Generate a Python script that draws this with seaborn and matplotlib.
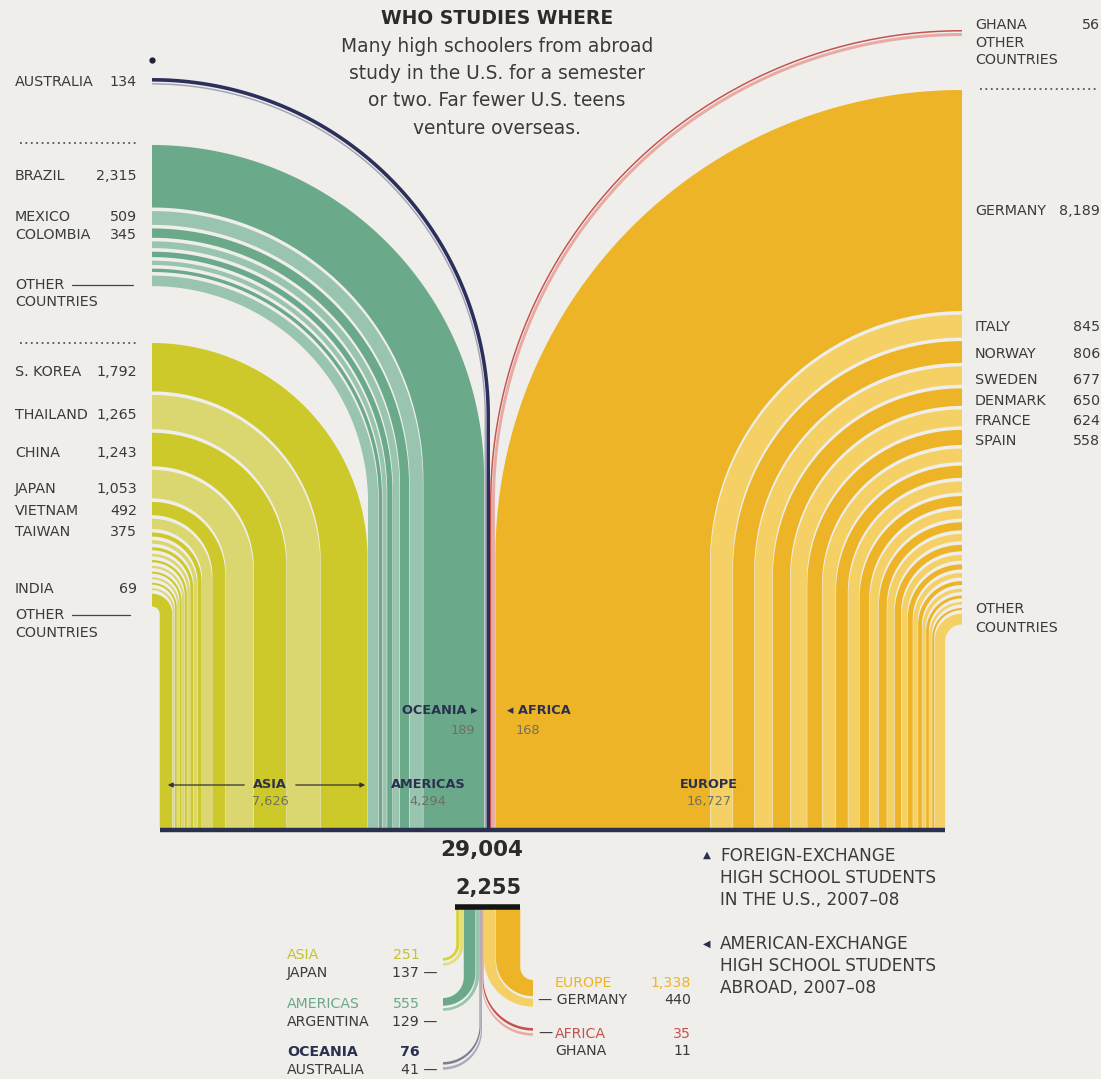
import numpy as np
import pandas as pd
import matplotlib
matplotlib.use("Agg")
import matplotlib.pyplot as plt
import seaborn as sns

# ---------------- DATA ----------------
# Foreign-exchange high school students in the U.S., 2007-08 (by home country)
asia_countries = ["S. KOREA", "THAILAND", "CHINA", "JAPAN", "VIETNAM", "TAIWAN",
                  "", "", "", "", "", "", "", "", "", "INDIA", "OTHER COUNTRIES"]
asia_values = [1792, 1265, 1243, 1053, 492, 375,
               150, 130, 110, 95, 85, 80, 75, 70, 70, 69, 472]
americas_countries = ["BRAZIL", "MEXICO", "COLOMBIA", "", "", "", "", "OTHER COUNTRIES"]
americas_values = [2315, 509, 345, 250, 200, 160, 125, 390]
oceania_countries = ["AUSTRALIA", "OTHER COUNTRIES"]
oceania_values = [134, 55]
africa_countries = ["GHANA", "OTHER COUNTRIES"]
africa_values = [56, 112]
europe_countries = ["GERMANY", "ITALY", "NORWAY", "SWEDEN", "DENMARK", "FRANCE", "SPAIN",
                    "", "", "", "", "", "", "", "", "", "", "", "", "", "", "", "",
                    "OTHER COUNTRIES"]
europe_values = [8189, 845, 806, 677, 650, 624, 558,
                 500, 450, 410, 370, 330, 300, 270, 240, 215, 190, 165, 145, 125, 105, 90, 75,
                 398]
continent_names = ["ASIA", "AMERICAS", "OCEANIA", "AFRICA", "EUROPE"]
continent_totals = [7626, 4294, 189, 168, 16727]
total_in_us = 29004

# American-exchange high school students abroad, 2007-08
abroad_continents = ["ASIA", "AMERICAS", "OCEANIA", "AFRICA", "EUROPE"]
abroad_totals = [251, 555, 76, 35, 1338]
abroad_top_country = ["JAPAN", "ARGENTINA", "AUSTRALIA", "GHANA", "GERMANY"]
abroad_top_values = [137, 129, 41, 11, 440]
total_abroad = 2255

# ---------------- STYLE / LAYOUT ----------------
sns.set_theme(style="white")
plt.rcParams["font.family"] = ["DejaVu Sans"]

BG = "#EFEEEA"
TXT = "#3A3A3A"
NAVY = "#2A3150"
pal = {
    "ASIA": ("#CEC92B", "#DAD670"),
    "AMERICAS": ("#6BA98B", "#99C4AF"),
    "OCEANIA": ("#2C2F5C", "#A3A4B8"),
    "AFRICA": ("#C4524E", "#E8AAA4"),
    "EUROPE": ("#EDB427", "#F4D065"),
}
low_pal = dict(pal)
low_pal["OCEANIA"] = ("#7E8092", "#A9AABB")
low_pal["ASIA"] = ("#D9D13A", "#E4DE7A")

W, H = 1101, 1079
fig = plt.figure(figsize=(W / 100, H / 100), dpi=100, facecolor=BG)
ax = fig.add_axes([0, 0, 1, 1])
ax.set_facecolor(BG)
ax.set_xlim(0, W)
ax.set_ylim(H, 0)
ax.axis("off")

XL_EDGE, XR_EDGE, CENTER_X, BASE_Y = 152, 962, 490, 828
S_BOT, GAP_BOT = 0.0262, 0.5
S_EDGE, GAP_EDGE = 0.027, 3.6
edge_top = {"ASIA": 343, "AMERICAS": 145, "OCEANIA": 78, "AFRICA": 30, "EUROPE": 90}
edge_gap = {"ASIA": GAP_EDGE, "AMERICAS": GAP_EDGE, "OCEANIA": 1.5, "AFRICA": 1.5, "EUROPE": GAP_EDGE}

groups = {
    "ASIA": (asia_countries, asia_values),
    "AMERICAS": (americas_countries, americas_values),
    "OCEANIA": (oceania_countries, oceania_values),
    "AFRICA": (africa_countries, africa_values),
    "EUROPE": (europe_countries, europe_values),
}

rows = []
# bottom positions, from the centre outwards
xl = CENTER_X
for cont in ["OCEANIA", "AMERICAS", "ASIA"]:
    names, vals = groups[cont]
    for i, (n, v) in enumerate(zip(names, vals)):
        t = v * S_BOT
        rows.append(dict(cont=cont, name=n, value=v, idx=i, side="L", x_out=xl, x_in=xl - t))
        xl -= t + GAP_BOT
xr = CENTER_X
for cont in ["AFRICA", "EUROPE"]:
    names, vals = groups[cont]
    for i, (n, v) in enumerate(zip(names, vals)):
        t = v * S_BOT
        rows.append(dict(cont=cont, name=n, value=v, idx=i, side="R", x_out=xr, x_in=xr + t))
        xr += t + GAP_BOT
bands = pd.DataFrame(rows)
# edge positions (top of band at the side edge)
ys_out, ys_in = [], []
ycur = {}
for _, r in bands.iterrows():
    y = ycur.get(r["cont"], edge_top[r["cont"]])
    t = r["value"] * S_EDGE
    ys_out.append(y)
    ys_in.append(y + t)
    ycur[r["cont"]] = y + t + edge_gap[r["cont"]]
bands["y_out"] = ys_out
bands["y_in"] = ys_in

th = np.linspace(np.pi / 2, 0, 90)


def boundary(xb, ye, side):
    if side == "L":
        r = xb - XL_EDGE
        cy = ye + r
        return XL_EDGE + r * np.cos(th), cy - r * np.sin(th), cy
    r = XR_EDGE - xb
    cy = ye + r
    return XR_EDGE - r * np.cos(th), cy - r * np.sin(th), cy


for _, r in bands.iterrows():
    xo, yo, cyo = boundary(r["x_out"], r["y_out"], r["side"])
    xi, yi, cyi = boundary(r["x_in"], r["y_in"], r["side"])
    px = np.concatenate([xo, [r["x_out"], r["x_in"]], xi[::-1]])
    py = np.concatenate([yo, [BASE_Y, BASE_Y], yi[::-1]])
    col = pal[r["cont"]][r["idx"] % 2]
    ax.fill(px, py, color=col, lw=0, zorder=2)

xmin, xmax = bands["x_in"].min(), bands["x_in"].max()
ax.plot([xmin, xmax], [BASE_Y + 1.5, BASE_Y + 1.5], color=NAVY, lw=3.2, solid_capstyle="butt", zorder=3)

# ---------------- LOWER (abroad) CHART ----------------
BAR_Y, LB_TOP, LOW_CX = 907, 909, 482
S_LOW, S_LOW_END, GAP_LOW_END, MIN_END = 0.027, 0.018, 2.5, 2.6
LX_END, RX_END = 443, 533
low_end_top = {"ASIA": 958, "AMERICAS": 998, "OCEANIA": 1062, "AFRICA": 1028, "EUROPE": 980}

low_rows = []
for cont, tot, nm, nv in zip(abroad_continents, abroad_totals, abroad_top_country, abroad_top_values):
    # listed from the outer side towards the centre
    low_rows.append((cont, "OTHER", tot - nv, 0))
    low_rows.append((cont, nm, nv, 1))
low = pd.DataFrame(low_rows, columns=["cont", "name", "value", "idx"])

ph = np.linspace(0, np.pi / 2, 60)


def low_boundary(xb, ye, side):
    if side == "L":
        r = xb - LX_END
        cy = ye - r
        return LX_END + r * np.cos(ph), cy + r * np.sin(ph), cy
    r = RX_END - xb
    cy = ye - r
    return RX_END - r * np.cos(ph), cy + r * np.sin(ph), cy


def draw_low(cont_order, side):
    x = LOW_CX
    for cont in cont_order:
        sub = low[low["cont"] == cont]
        y = low_end_top[cont]
        ends = {}
        for _, rr in sub.iterrows():
            t = max(rr["value"] * S_LOW_END, MIN_END)
            ends[rr["idx"]] = (y, y + t)
            y += t + GAP_LOW_END
        for _, rr in sub.iloc[::-1].iterrows():
            t = rr["value"] * S_LOW
            if side == "L":
                xa, xb = x - t, x
                x -= t + 0.4
            else:
                xa, xb = x + t, x
                x += t + 0.4
            ya, yb = ends[rr["idx"]]
            ax_, ay_, cya = low_boundary(xa, ya, side)
            bx_, by_, cyb = low_boundary(xb, yb, side)
            px = np.concatenate([[xa, xa], ax_, bx_[::-1], [xb, xb]])
            py = np.concatenate([[LB_TOP, cya], ay_, by_[::-1], [cyb, LB_TOP]])
            ax.fill(px, py, color=low_pal[cont][rr["idx"] % 2], lw=0, zorder=2)


draw_low(["OCEANIA", "AMERICAS", "ASIA"], "L")
draw_low(["AFRICA", "EUROPE"], "R")
ax.plot([455, 520], [BAR_Y, BAR_Y], color="#151515", lw=4, solid_capstyle="butt", zorder=3)

# ---------------- TEXT ----------------
ax.text(497, 18, "WHO STUDIES WHERE", ha="center", va="center", fontsize=13.5,
        fontweight="bold", color="#2B2B2B")
for i, line in enumerate(["Many high schoolers from abroad", "study in the U.S. for a semester",
                          "or two. Far fewer U.S. teens", "venture overseas."]):
    ax.text(497, 46 + i * 27.5, line, ha="center", va="center", fontsize=13.4, color="#3A3A3A")

LBL = 10.3


def left_label(name, num, y):
    ax.text(15, y, name, ha="left", va="center", fontsize=LBL, color=TXT)
    if num:
        ax.text(137, y, num, ha="right", va="center", fontsize=LBL, color=TXT)


def right_label(name, num, y):
    ax.text(975, y, name, ha="left", va="center", fontsize=LBL, color=TXT)
    if num:
        ax.text(1100, y, num, ha="right", va="center", fontsize=LBL, color=TXT)


left_label("AUSTRALIA", "134", 82)
ax.plot([20, 136], [143, 143], color="#555", lw=1.3, ls=(0, (1, 2.0)))
left_label("BRAZIL", "2,315", 176)
left_label("MEXICO", "509", 217)
left_label("COLOMBIA", "345", 235)
left_label("OTHER", "", 285)
ax.plot([72, 133], [285, 285], color="#444", lw=0.9)
left_label("COUNTRIES", "", 302)
ax.plot([20, 136], [343, 343], color="#555", lw=1.3, ls=(0, (1, 2.0)))
left_label("S. KOREA", "1,792", 372)
left_label("THAILAND", "1,265", 415)
left_label("CHINA", "1,243", 453)
left_label("JAPAN", "1,053", 489)
left_label("VIETNAM", "492", 511)
left_label("TAIWAN", "375", 532)
left_label("INDIA", "69", 589)
left_label("OTHER", "", 615)
ax.plot([72, 130], [615, 615], color="#444", lw=0.9)
left_label("COUNTRIES", "", 633)
ax.plot([152], [60], marker="o", ms=3.5, color="#1E2236")

right_label("GHANA", "56", 25)
right_label("OTHER", "", 43)
right_label("COUNTRIES", "", 60)
ax.plot([980, 1097], [89, 89], color="#555", lw=1.3, ls=(0, (1, 2.0)))
right_label("GERMANY", "8,189", 211)
right_label("ITALY", "845", 327)
right_label("NORWAY", "806", 354)
right_label("SWEDEN", "677", 380)
right_label("DENMARK", "650", 401)
right_label("FRANCE", "624", 421)
right_label("SPAIN", "558", 441)
right_label("OTHER", "", 609)
right_label("COUNTRIES", "", 628)

# in-chart continent labels
ctot = dict(zip(continent_names, continent_totals))
INK = "#2A3150"
NUMC = "#6E7160"
CL = 9.3
ax.text(440, 711, "OCEANIA \u25B8", ha="center", va="center", fontsize=CL, fontweight="bold", color=INK)
ax.text(463, 730, f"{ctot['OCEANIA']:,}", ha="center", va="center", fontsize=CL, color=NUMC)
ax.text(539, 711, "\u25C2 AFRICA", ha="center", va="center", fontsize=CL, fontweight="bold", color=INK)
ax.text(528, 730, f"{ctot['AFRICA']:,}", ha="center", va="center", fontsize=CL, color=NUMC)
ax.text(270, 785, "ASIA", ha="center", va="center", fontsize=CL, fontweight="bold", color=INK)
ax.text(270, 802, f"{ctot['ASIA']:,}", ha="center", va="center", fontsize=CL, color=NUMC)
ax.annotate("", xy=(165, 785), xytext=(247, 785),
            arrowprops=dict(arrowstyle="-|>", color="#333", lw=0.9, mutation_scale=7))
ax.annotate("", xy=(368, 785), xytext=(293, 785),
            arrowprops=dict(arrowstyle="-|>", color="#333", lw=0.9, mutation_scale=7))
ax.text(428, 785, "AMERICAS", ha="center", va="center", fontsize=CL, fontweight="bold", color=INK)
ax.text(428, 802, f"{ctot['AMERICAS']:,}", ha="center", va="center", fontsize=CL, color=NUMC)
ax.text(709, 785, "EUROPE", ha="center", va="center", fontsize=CL, fontweight="bold", color=INK)
ax.text(709, 802, f"{ctot['EUROPE']:,}", ha="center", va="center", fontsize=CL, color=NUMC)

ax.text(482, 850, f"{total_in_us:,}", ha="center", va="center", fontsize=15.5, fontweight="bold", color="#2B2B2B")
ax.text(488, 888, f"{total_abroad:,}", ha="center", va="center", fontsize=15, fontweight="bold", color="#2B2B2B")

# legend notes
LEG = 12.2
for i, line in enumerate(["FOREIGN-EXCHANGE", "HIGH SCHOOL STUDENTS", "IN THE U.S., 2007\u201308"]):
    ax.text(720, 856 + i * 22, line, ha="left", va="center", fontsize=LEG, color=TXT)
ax.text(707, 855, "\u25B2", ha="center", va="center", fontsize=7.5, color=NAVY)
for i, line in enumerate(["AMERICAN-EXCHANGE", "HIGH SCHOOL STUDENTS", "ABROAD, 2007\u201308"]):
    ax.text(720, 944 + i * 22, line, ha="left", va="center", fontsize=LEG, color=TXT)
ax.text(707, 944, "\u25C0", ha="center", va="center", fontsize=7, color=NAVY)

# lower chart labels
ab = dict(zip(abroad_continents, abroad_totals))
abn = dict(zip(abroad_continents, zip(abroad_top_country, abroad_top_values)))
lowcol = {"ASIA": "#C5C233", "AMERICAS": "#6BA98B", "OCEANIA": "#2A3150",
          "EUROPE": "#EDB427", "AFRICA": "#C4524E"}
LL = 10.2
for cont, y in [("ASIA", 955), ("AMERICAS", 1004), ("OCEANIA", 1052)]:
    w = "bold" if cont == "OCEANIA" else "normal"
    ax.text(287, y, cont, ha="left", va="center", fontsize=LL, color=lowcol[cont], fontweight=w)
    ax.text(420, y, f"{ab[cont]:,}", ha="right", va="center", fontsize=LL, color=lowcol[cont], fontweight=w)
    nm, nv = abn[cont]
    ax.text(287, y + 18, nm, ha="left", va="center", fontsize=LL, color=TXT)
    ax.text(438, y + 18, f"{nv:,} \u2014", ha="right", va="center", fontsize=LL, color=TXT)
for cont, y in [("EUROPE", 983), ("AFRICA", 1034)]:
    nm, nv = abn[cont]
    if cont == "EUROPE":
        ax.text(555, y, cont, ha="left", va="center", fontsize=LL, color=lowcol[cont])
        ax.text(691, y, f"{ab[cont]:,}", ha="right", va="center", fontsize=LL, color=lowcol[cont])
        ax.text(538, y + 17, "\u2014 " + nm, ha="left", va="center", fontsize=LL, color=TXT)
        ax.text(691, y + 17, f"{nv:,}", ha="right", va="center", fontsize=LL, color=TXT)
    else:
        ax.text(538, y, "\u2014", ha="left", va="center", fontsize=LL, color=TXT)
        ax.text(555, y, cont, ha="left", va="center", fontsize=LL, color=lowcol[cont])
        ax.text(691, y, f"{ab[cont]:,}", ha="right", va="center", fontsize=LL, color=lowcol[cont])
        ax.text(555, y + 17, nm, ha="left", va="center", fontsize=LL, color=TXT)
        ax.text(691, y + 17, f"{nv:,}", ha="right", va="center", fontsize=LL, color=TXT)

fig.savefig("out.png", dpi=100, facecolor=BG)
